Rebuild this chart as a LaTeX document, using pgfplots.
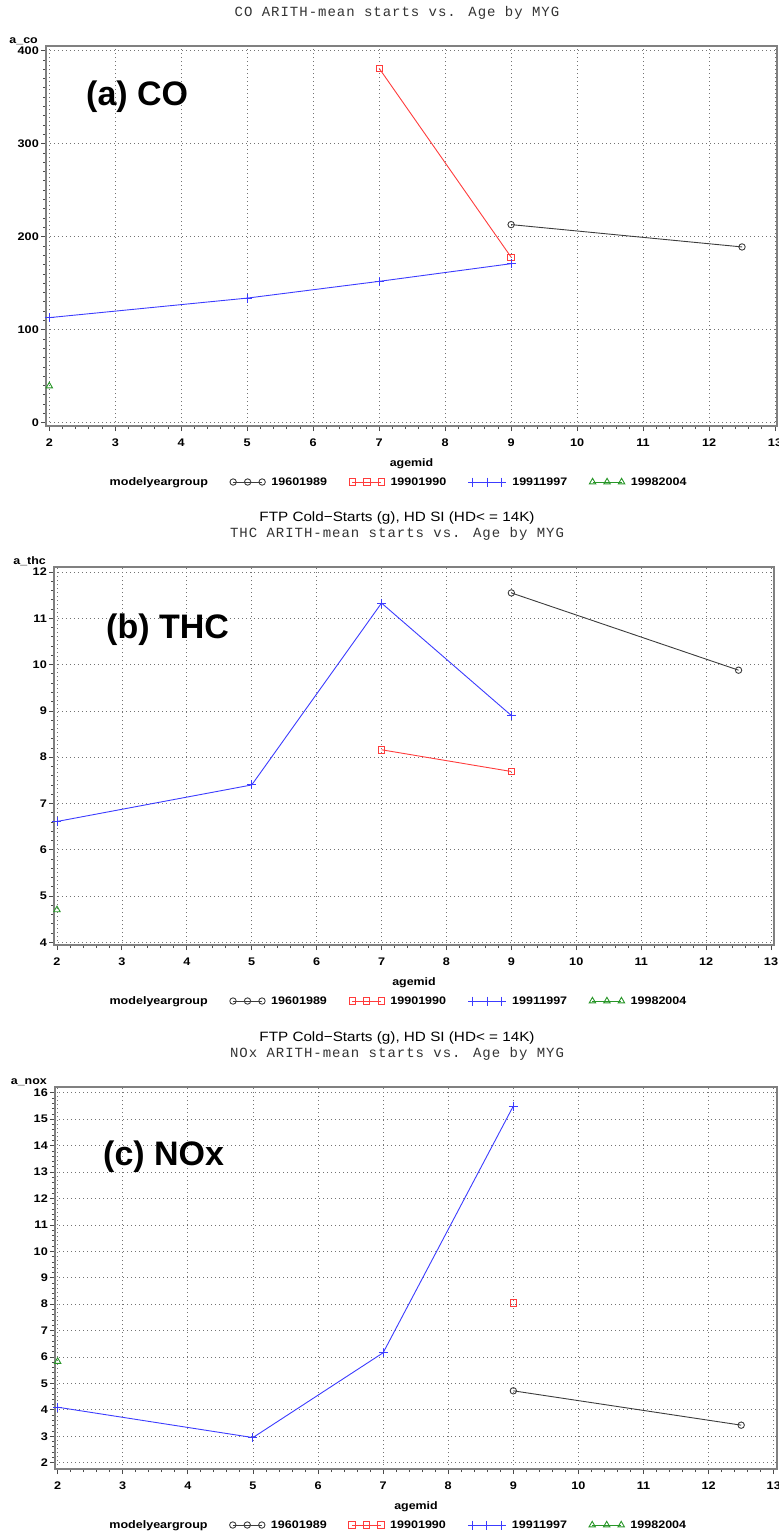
\documentclass[border=0pt]{standalone}
\usepackage{fontspec}
\setmainfont{Liberation Sans}
\newfontfamily\tickfont{Liberation Sans Bold}[FakeStretch=1.15]
\newfontfamily\titlemono{Liberation Mono}[LetterSpace=7]
\newfontfamily\titlesans{Liberation Sans}[FakeStretch=1.13]
\usepackage{pgfplots}
\pgfplotsset{compat=1.18}
\definecolor{sasblack}{RGB}{60,60,60}
\definecolor{sasred}{RGB}{255,60,60}
\definecolor{sasblue}{RGB}{60,60,255}
\definecolor{sasgreen}{RGB}{40,150,40}
\pgfplotsset{
  sas/.style={
    scale only axis, clip=false,
    xtick={2,3,...,13}, minor x tick num=4,
    tick align=outside, xtick pos=bottom, ytick pos=left,
    major tick length=5pt, minor tick length=3pt,
    tick style={black!70, line width=0.8pt},
    grid=major,
    major grid style={black!55, dash pattern=on 0.8pt off 3.2pt, line width=0.7pt},
    axis line style={black!50, line width=1.5pt},
    /pgf/number format/assume math mode=true,
    tick label style={font=\tickfont\fontsize{11}{12}\selectfont},
    xticklabel style={anchor=north, inner sep=0pt, yshift=-7.5pt},
    yticklabel style={anchor=east, inner sep=0pt, xshift=-2pt},
    label style={font=\tickfont\fontsize{10.8}{12}\selectfont},
    xlabel=agemid,
    xlabel style={at={(axis description cs:0.5,0)}, anchor=center, yshift=-38pt},
    ylabel style={rotate=-90, at={(axis description cs:0,1)}, anchor=south east, inner sep=0pt, xshift=-8pt, yshift=0.5pt},
    legend columns=5,
    legend image code/.code={\draw[#1] plot coordinates {(0pt,0pt) (14.5pt,0pt) (29pt,0pt)};},
    legend style={anchor=center, yshift=-56pt, draw=none, fill=none,
      font=\tickfont\fontsize{10.9}{12}\selectfont,
      /tikz/every even column/.append style={column sep=20pt},
      /tikz/every odd column/.append style={column sep=4pt},
      inner sep=0pt, nodes={inner sep=2pt}},
    legend cell align=left,
  },
  s1/.style={sasblack, mark=o, mark size=3.2pt, line width=0.9pt, mark options={solid}},
  s2/.style={sasred, mark=square, mark size=3.2pt, line width=0.9pt, mark options={solid}},
  s3/.style={sasblue, mark=+, mark size=4.5pt, line width=0.9pt, mark options={solid}},
  s4/.style={sasgreen, mark=triangle, mark size=3.7pt, line width=0.9pt, mark options={solid}},
}
\begin{document}
\begin{tikzpicture}
\path[use as bounding box] (0pt,0pt) rectangle (779pt,-1532pt);
% ---------- Panel (a) CO ----------
\node[anchor=base, font=\titlemono\fontsize{14}{16}\selectfont, text=black!80] at (397pt,-16.7pt) {CO ARITH-mean starts vs. Age by MYG};
\begin{axis}[sas, at={(46pt,-46pt)}, anchor=north west, width=731pt, height=380pt,
  xmin=1.95, xmax=13.03, ymin=-3.5, ymax=405,
  ytick={0,100,200,300,400}, minor y tick num=9,
  ylabel={a\_co},
  legend style={at={(axis description cs:0.479,0)}}]
\addlegendimage{empty legend}
\addplot[s1] coordinates {(9,213) (12.5,189)};
\addplot[s2] coordinates {(7,381) (9,178)};
\addplot[s3] coordinates {(2,113) (5,134) (7,152) (9,171)};
\addplot[s4] coordinates {(2,39.5)};
\legend{modelyeargroup,19601989,19901990,19911997,19982004}
\end{axis}
\node[anchor=base west, inner sep=0pt, font=\bfseries\fontsize{34}{40}\selectfont] at (86pt,-105pt) {(a) CO};
% ---------- Panel (b) THC ----------
\node[anchor=base, font=\titlesans\fontsize{13.5}{16}\selectfont] at (397pt,-521pt) {FTP Cold−Starts (g), HD SI (HD< = 14K)};
\node[anchor=base, font=\titlemono\fontsize{14}{16}\selectfont, text=black!80] at (397pt,-537.3pt) {THC ARITH-mean starts vs. Age by MYG};
\begin{axis}[sas, at={(54pt,-567pt)}, anchor=north west, width=720pt, height=378pt,
  xmin=1.954, xmax=13.046, ymin=3.94, ymax=12.11,
  ytick={4,5,...,12}, minor y tick num=4,
  ylabel={a\_thc},
  legend style={at={(axis description cs:0.475,0)}}]
\addlegendimage{empty legend}
\addplot[s1] coordinates {(9,11.55) (12.5,9.88)};
\addplot[s2] coordinates {(7,8.16) (9,7.69)};
\addplot[s3] coordinates {(2,6.61) (5,7.40) (7,11.33) (9,8.90)};
\addplot[s4] coordinates {(2,4.70)};
\legend{modelyeargroup,19601989,19901990,19911997,19982004}
\end{axis}
\node[anchor=base west, inner sep=0pt, font=\bfseries\fontsize{34}{40}\selectfont] at (106pt,-638pt) {(b) THC};
% ---------- Panel (c) NOx ----------
\node[anchor=base, font=\titlesans\fontsize{13.5}{16}\selectfont] at (397pt,-1041pt) {FTP Cold−Starts (g), HD SI (HD< = 14K)};
\node[anchor=base, font=\titlemono\fontsize{14}{16}\selectfont, text=black!80] at (397pt,-1057.3pt) {NOx ARITH-mean starts vs. Age by MYG};
\begin{axis}[sas, at={(55pt,-1087pt)}, anchor=north west, width=722pt, height=382pt,
  xmin=1.96, xmax=13.05, ymin=1.76, ymax=16.22,
  ytick={2,3,...,16}, minor y tick num=4,
  ylabel={a\_nox},
  legend style={at={(axis description cs:0.472,0)}}]
\addlegendimage{empty legend}
\addplot[s1] coordinates {(9,4.72) (12.5,3.42)};
\addplot[s2] coordinates {(9,8.04)};
\addplot[s3] coordinates {(2,4.10) (5,2.95) (7,6.16) (9,15.5)};
\addplot[s4] coordinates {(2,5.83)};
\legend{modelyeargroup,19601989,19901990,19911997,19982004}
\end{axis}
\node[anchor=base west, inner sep=0pt, font=\bfseries\fontsize{34}{40}\selectfont] at (103pt,-1165pt) {(c) NOx};
\end{tikzpicture}
\end{document}
